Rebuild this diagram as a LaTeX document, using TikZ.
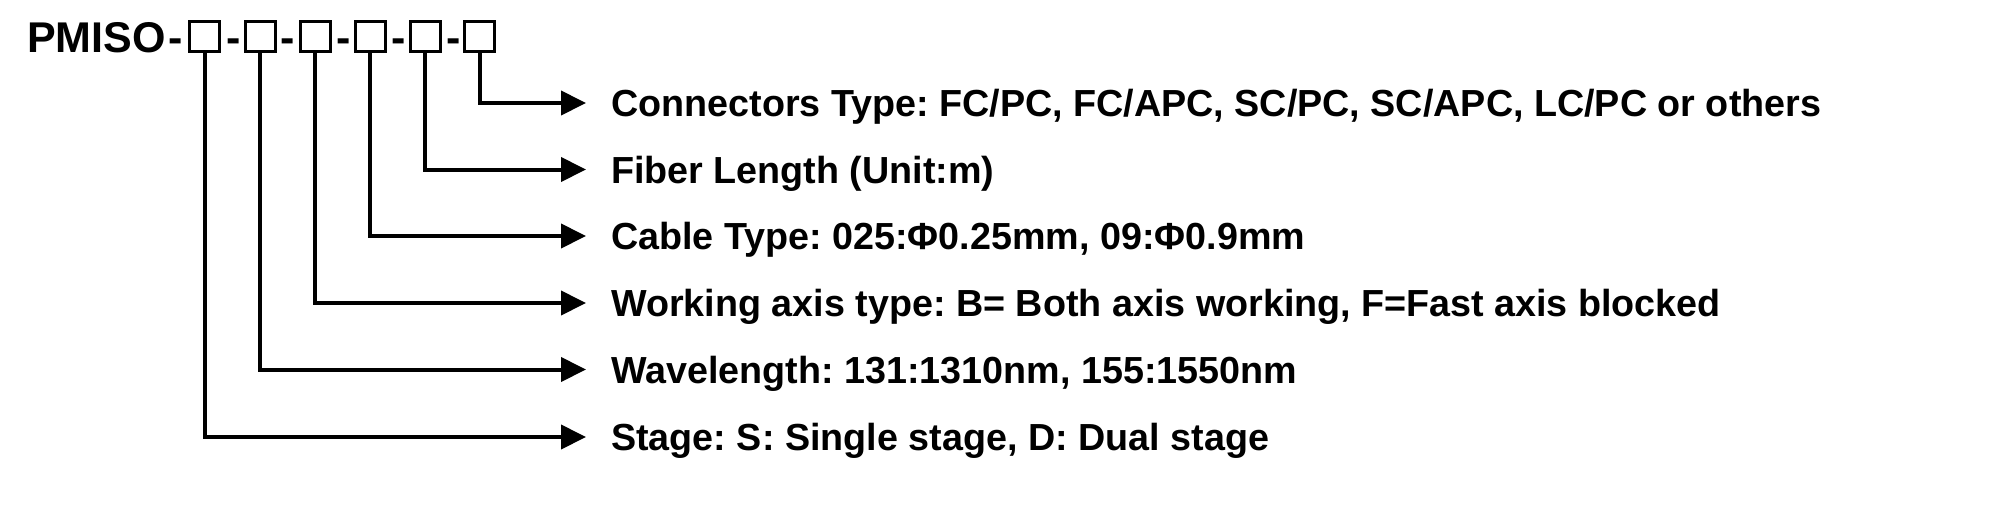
\documentclass[tikz,border=0pt]{standalone}
\usepackage{fontspec}
\setmainfont{Liberation Sans}
\frenchspacing
\usetikzlibrary{arrows.meta}
\tikzset{
  title/.style={font=\fontsize{43}{50}\selectfont\bfseries, inner sep=0pt},
  codebox/.style={draw, line width=3pt, minimum size=30pt, inner sep=0pt},
  item/.style={font=\fontsize{37.7}{45}\selectfont\bfseries, anchor=west, inner xsep=25pt, inner ysep=0pt, text height=27pt, text depth=0pt},
  lead/.style={line width=4pt, -{Triangle[length=25pt,width=24pt]}}
}

\begin{document}
\begin{tikzpicture}[x=1pt,y=-1pt]
			%%%%% START %%%%%
			\useasboundingbox (0,0) rectangle (2000,528);
			
			\node[title, anchor=base west] (pmiso) at (27, 52) {PMISO};
			\node[title, anchor=base] (h0) at (175.5, 52) {-};
			
			\node[codebox] (c1) at (204.5, 36) {};
			\node[title, anchor=base] (h1) at (233.5, 52) {-};
			\node[codebox] (c2) at (260, 36) {};
			\node[title, anchor=base] (h2) at (288, 52) {-};
			\node[codebox] (c3) at (315, 36) {};
			\node[title, anchor=base] (h3) at (343.5, 52) {-};
			\node[codebox] (c4) at (370, 36) {};
			\node[title, anchor=base] (h4) at (399, 52) {-};
			\node[codebox] (c5) at (425, 36) {};
			\node[title, anchor=base] (h5) at (453.5, 52) {-};
			\node[codebox] (c6) at (479.7, 36) {};
			
			\node[item] (conn) at (586, 103) {Connectors Type: FC/PC, FC/APC, SC/PC, SC/APC, LC/PC or others};
			\node[item] (len) at (586, 169.5) {Fiber Length (Unit:m)};
			\node[item] (cable) at (586, 236) {Cable Type: 025:Φ0.25mm, 09:Φ0.9mm};
			\node[item] (axis) at (586, 303) {Working axis type: B= Both axis working, F=Fast axis blocked};
			\node[item] (wave) at (586, 369.5) {Wavelength: 131:1310nm, 155:1550nm};
			\node[item] (stage) at (586, 437) {Stage: S: Single stage, D: Dual stage};
			
			\draw[lead] (c6.south) |- (conn.west);
			\draw[lead] (c5.south) |- (len.west);
			\draw[lead] (c4.south) |- (cable.west);
			\draw[lead] (c3.south) |- (axis.west);
			\draw[lead] (c2.south) |- (wave.west);
			\draw[lead] (c1.south) |- (stage.west);
			
			%%%%% END %%%%%
\end{tikzpicture}
\end{document}
